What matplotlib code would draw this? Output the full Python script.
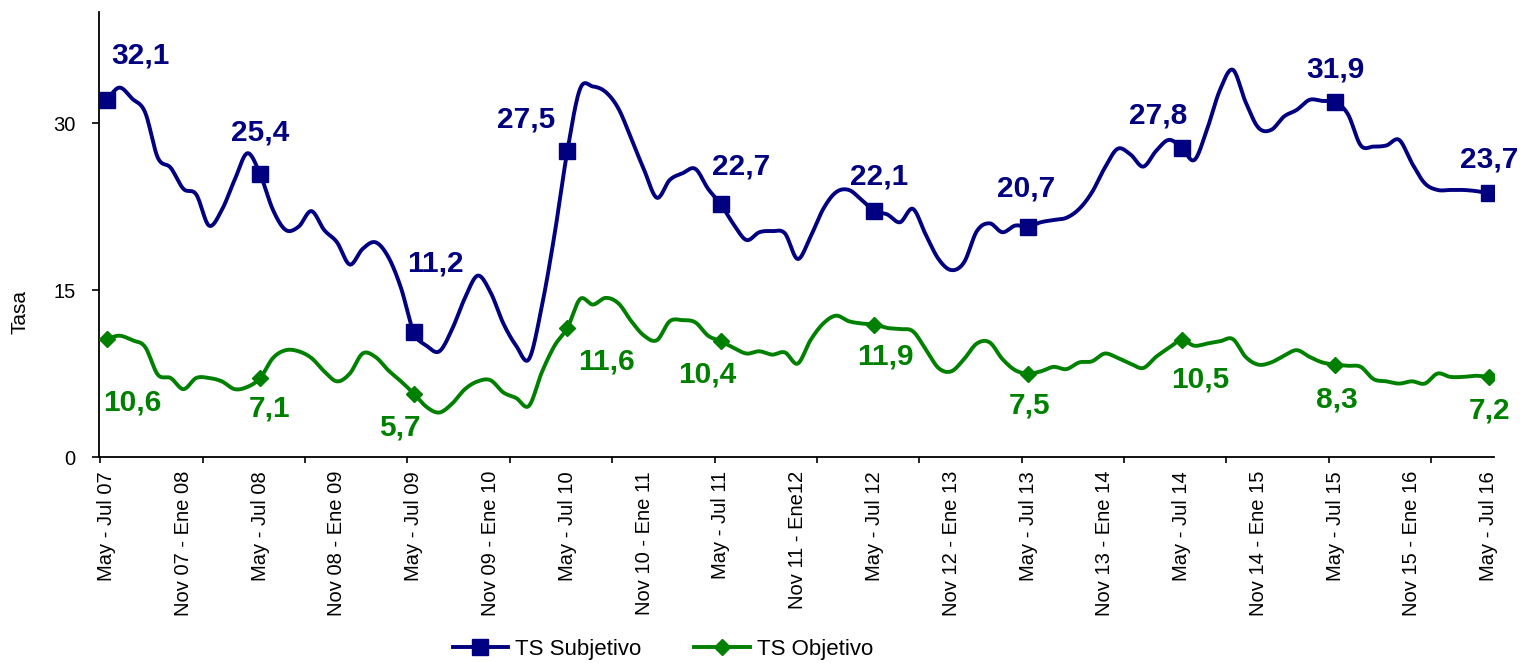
import numpy as np
import matplotlib.pyplot as plt

plt.rcParams['font.family'] = ['Liberation Sans', 'DejaVu Sans']

# moving quarters, May-Jul 07 .. May-Jul 16 (monthly steps)
ts_subjetivo = [
    32.1, 33.2, 32.2, 31.0, 26.9, 26.0, 24.1, 23.6, 20.8, 22.2, 24.9, 27.3,
    25.4, 22.2, 20.4, 20.7, 22.1, 20.4, 19.3, 17.3, 18.7, 19.3, 18.0, 15.2,
    11.2, 10.0, 9.5, 11.5, 14.3, 16.3, 14.8, 12.0, 10.0, 8.8, 13.5, 20.0,
    27.5, 33.1, 33.3, 32.8, 31.3, 28.6, 25.8, 23.3, 24.9, 25.5, 25.9, 24.1,
    22.7, 20.9, 19.5, 20.2, 20.3, 20.1, 17.8, 19.8, 22.3, 23.8, 24.0, 23.1,
    22.1, 21.8, 21.1, 22.3, 20.0, 17.8, 16.8, 17.5, 20.3, 21.0, 20.2, 20.8,
    20.7, 21.1, 21.3, 21.5, 22.3, 23.8, 26.0, 27.7, 27.2, 26.1, 27.5, 28.5,
    27.8, 26.7, 29.5, 33.0, 34.8, 31.9, 29.6, 29.4, 30.6, 31.2, 32.1, 32.0,
    31.9, 30.8, 28.0, 27.9, 28.0, 28.5, 26.4, 24.6, 24.0, 24.0, 24.0, 23.9,
    23.7]

ts_objetivo = [
    10.6, 10.9, 10.5, 9.9, 7.4, 7.1, 6.1, 7.1, 7.1, 6.8, 6.1, 6.3,
    7.1, 8.9, 9.6, 9.5, 8.9, 7.7, 6.8, 7.5, 9.3, 9.0, 7.8, 6.8,
    5.7, 4.5, 4.0, 4.8, 6.1, 6.8, 6.9, 5.8, 5.3, 4.6, 7.6, 10.0,
    11.6, 14.2, 13.7, 14.3, 13.8, 12.2, 10.9, 10.5, 12.2, 12.3, 12.1, 10.9,
    10.4, 9.8, 9.3, 9.5, 9.2, 9.4, 8.4, 10.5, 12.0, 12.7, 12.2, 12.0,
    11.9, 11.6, 11.5, 11.3, 9.7, 8.0, 7.7, 8.8, 10.2, 10.3, 8.8, 7.8,
    7.5, 7.7, 8.1, 7.9, 8.5, 8.6, 9.3, 8.9, 8.4, 8.0, 9.0, 9.8,
    10.5, 10.0, 10.2, 10.4, 10.6, 9.0, 8.3, 8.5, 9.1, 9.6, 9.0, 8.5,
    8.3, 8.2, 8.1, 7.0, 6.8, 6.6, 6.8, 6.6, 7.5, 7.2, 7.2, 7.3,
    7.2]

etiquetas = ['May - Jul 07', 'Nov 07 - Ene 08', 'May - Jul 08', 'Nov 08 - Ene 09',
             'May - Jul 09', 'Nov 09 - Ene 10', 'May - Jul 10', 'Nov 10 - Ene 11',
             'May - Jul 11', 'Nov 11 - Ene12', 'May - Jul 12', 'Nov 12 - Ene 13',
             'May - Jul 13', 'Nov 13 - Ene 14', 'May - Jul 14', 'Nov 14 - Ene 15',
             'May - Jul 15', 'Nov 15 - Ene 16', 'May - Jul 16']

# label nudges in pixels (dx, dy) from each yearly marker
off_subj = [(34, 44), (0, 42), (22, 69), (-41, 32), (20, 38),
            (5, 35), (-2, 38), (-23, 32), (0, 33), (0, 34)]
off_obj = [(26, -63), (9, -30), (-14, -34), (39, -34), (-14, -33),
           (11, -32), (2, -32), (19, -39), (2, -35), (1, -34)]

AZUL = '#000080'
VERDE = '#008000'
N = 20  # samples per segment of the smoothed curve


def suave(y, n=N):
    # Catmull-Rom spline through the points
    y = np.asarray(y, float)
    p = np.concatenate([[2 * y[0] - y[1]], y, [2 * y[-1] - y[-2]]])
    t = np.linspace(0, 1, n, endpoint=False)
    xs, ys = [], []
    for k in range(len(y) - 1):
        p0, p1, p2, p3 = p[k], p[k + 1], p[k + 2], p[k + 3]
        yy = 0.5 * ((2 * p1) + (-p0 + p2) * t + (2 * p0 - 5 * p1 + 4 * p2 - p3) * t ** 2
                    + (-p0 + 3 * p1 - 3 * p2 + p3) * t ** 3)
        xs.append(k + t)
        ys.append(yy)
    xs.append([len(y) - 1])
    ys.append([y[-1]])
    return np.concatenate(xs), np.concatenate(ys)


fig = plt.figure(figsize=(15.27, 6.63), dpi=100)
ax = fig.add_axes([0.0648, 0.3107, 0.9135, 0.6713])

anuales = list(range(0, len(ts_subjetivo), 12))

for serie, color, mk, ms, offs, nombre in [
        (ts_subjetivo, AZUL, 's', 11, off_subj, 'TS Subjetivo'),
        (ts_objetivo, VERDE, 'D', 8.5, off_obj, 'TS Objetivo')]:
    xs, ys = suave(serie)
    ax.plot(xs, ys, color=color, lw=2.8, marker=mk, ms=ms,
            markevery=[i * N for i in anuales], label=nombre, zorder=3)
    for i, (dx, dy) in zip(anuales, offs):
        ax.annotate(f'{serie[i]:.1f}'.replace('.', ','), xy=(i, serie[i]),
                    xytext=(dx, dy), textcoords='offset pixels',
                    ha='center', va='center', fontsize=21.5, fontweight='bold',
                    color=color)

ax.set_xlim(-0.6, 108.4)
ax.set_ylim(0, 40)
ax.set_yticks([0, 15, 30])
ax.set_xticks(range(0, 109, 6))
ax.set_xticklabels(etiquetas, rotation=90, fontsize=14.5)
ax.set_xticks(np.arange(-0.5, 108, 8), minor=True)
ax.tick_params(axis='x', which='major', length=0, pad=10)
ax.tick_params(axis='x', which='minor', length=4, width=1.2, direction='out')
ax.tick_params(axis='y', length=5, width=1.2, pad=12, labelsize=14.5)
ax.set_ylabel('Tasa', fontsize=15)
ax.yaxis.set_label_coords(-0.05, 0.326)

for s in ['top', 'right']:
    ax.spines[s].set_visible(False)
for s in ['left', 'bottom']:
    ax.spines[s].set_linewidth(1.3)

fig.legend(loc='center', bbox_to_anchor=(0.434, 0.02), ncol=2, frameon=False,
           fontsize=16, handlelength=2.5, columnspacing=2.4, handletextpad=0.3)

fig.savefig('out.png', dpi=100)
